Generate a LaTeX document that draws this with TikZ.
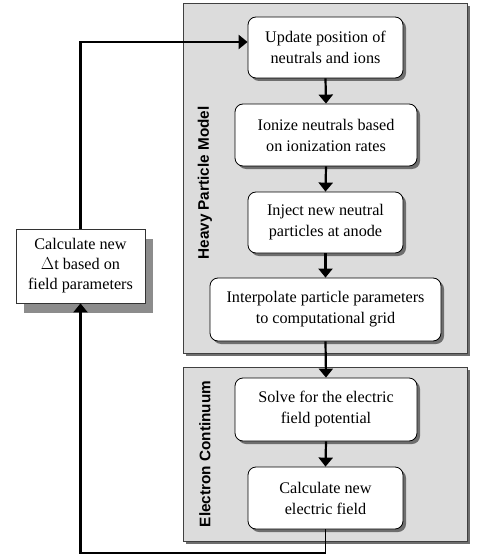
\documentclass[tikz,border=0pt]{standalone}
\usepackage{fontspec}
\setmainfont{Liberation Serif}
\newfontfamily\labfont{Liberation Sans}
\usetikzlibrary{arrows.meta,shadows}
\definecolor{panelgray}{HTML}{DCDCDC}
\definecolor{shadowgray}{HTML}{6E6E6E}
\tikzset{
  panel/.style={draw=black!75, line width=0.8pt, fill=panelgray, anchor=north west, inner sep=0pt,
    general shadow={fill=shadowgray, shadow xshift=3pt, shadow yshift=-3pt}},
  stepbox/.style={draw=black, line width=0.8pt, fill=white, rounded corners=8pt, align=center,
    inner sep=0pt, font=\fontsize{16.2}{21}\selectfont,
    general shadow={fill=shadowgray, shadow xshift=3pt, shadow yshift=-3pt}},
  sidebox/.style={draw=black!80, line width=0.8pt, fill=white, align=center, inner sep=0pt,
    font=\fontsize{16.2}{20}\selectfont,
    general shadow={fill=gray!90, shadow xshift=8pt, shadow yshift=-10pt}},
  paneltitle/.style={rotate=90, font=\labfont\bfseries\fontsize{15.3}{17}\selectfont},
  arr/.style={line width=2.2pt, -{Triangle[length=9pt,width=14pt]}},
}
\begin{document}
\begin{tikzpicture}[x=1pt,y=-1pt]
\useasboundingbox (0,0) rectangle (477,556);
% panels
\node[panel, minimum width=284pt, minimum height=350pt] (hpm) at (183,3) {};
\node[panel, minimum width=284pt, minimum height=174pt] (ec) at (183,367) {};
\node[paneltitle] (hpmt) at (205,183) {Heavy Particle Model};
\node[paneltitle] (ect) at (205,454) {Electron Continuum};
% boxes
\node[stepbox, minimum width=155pt, minimum height=61pt] (upd) at (325.5,47.5) {Update position of\\neutrals and ions};
\node[stepbox, minimum width=182pt, minimum height=62pt] (ion) at (326,135) {Ionize neutrals based\\on ionization rates};
\node[stepbox, minimum width=155pt, minimum height=61pt] (inj) at (325.5,222.5) {Inject new neutral\\particles at anode};
\node[stepbox, minimum width=231pt, minimum height=63pt] (intp) at (325.5,309.5) {Interpolate particle parameters\\to computational grid};
\node[stepbox, minimum width=182pt, minimum height=63pt] (sol) at (326,409.5) {Solve for the electric\\field potential};
\node[stepbox, minimum width=155pt, minimum height=62pt] (cef) at (325.5,498) {Calculate new\\electric field};
\node[sidebox, minimum width=129pt, minimum height=74pt] (dt) at (80.5,266) {Calculate new\\$\Delta$t based on\\field parameters};
% arrows
\draw[arr] (upd.south) -- (ion.north);
\draw[arr] (ion.south) -- (inj.north);
\draw[arr] (inj.south) -- (intp.north);
\draw[arr] (intp.south) -- (sol.north);
\draw[arr] (sol.south) -- (cef.north);
\draw[arr] (dt.north) |- ([yshift=5.5pt]upd.west);
\coordinate (bend) at (cef.south |- 0,553);
\draw[line width=1.3pt] (cef.south) -- (bend);
\draw[arr] (bend) -| (dt.south);
\end{tikzpicture}
\end{document}
